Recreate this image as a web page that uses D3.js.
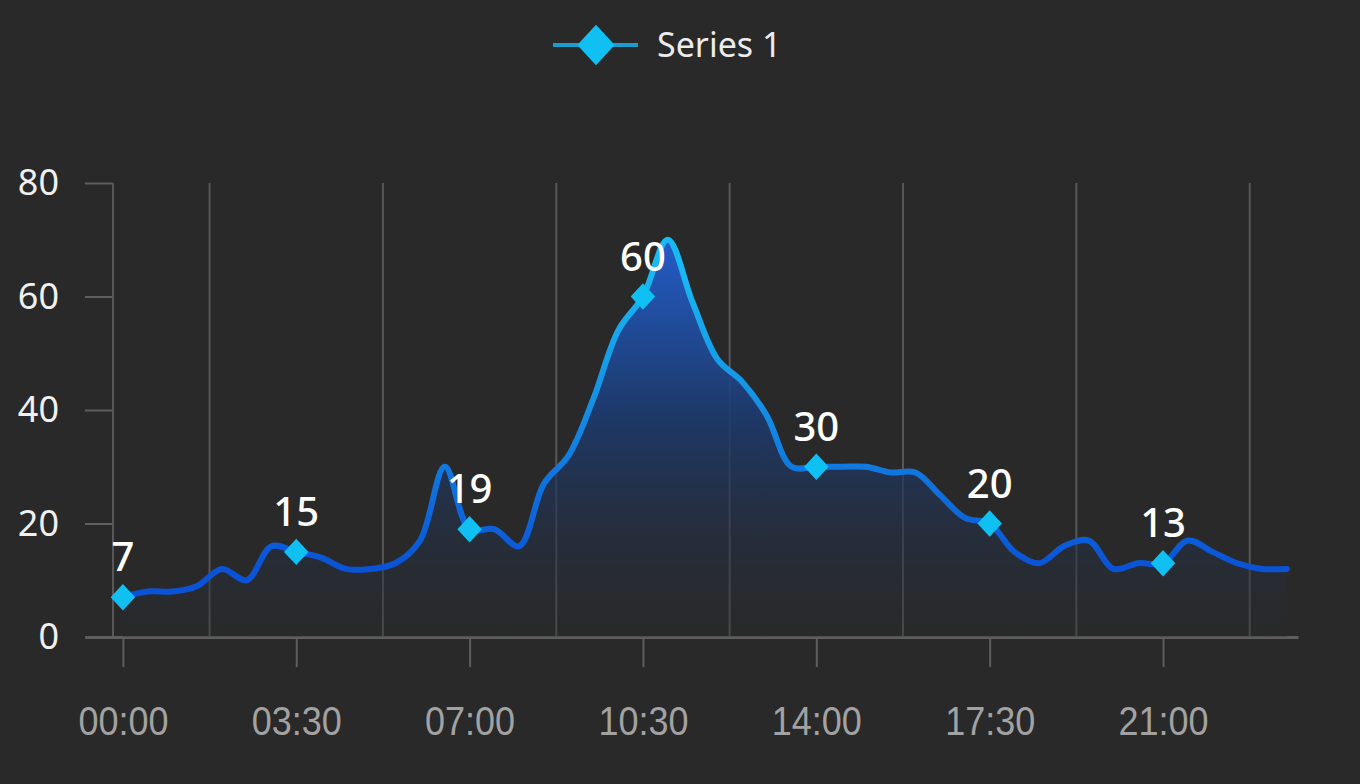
<!DOCTYPE html>
<html>
<head>
<meta charset="utf-8">
<script src="https://cdn.jsdelivr.net/npm/d3@7"></script>
<style>
  html, body { margin: 0; padding: 0; background: #292929; }
  svg { display: block; }
</style>
</head>
<body>
<script>
'use strict';

// half-hour readings, 00:00 .. 23:30
const values = [7, 8, 8, 9, 12, 10, 16, 15, 14, 12, 12, 13,
                17, 30, 19, 19, 16, 27, 32, 42, 54, 60, 70, 59,
                49, 45, 39, 30, 30, 30, 30, 29, 29, 25, 21, 20,
                15, 13, 16, 17, 12, 13, 13, 17, 15, 13, 12, 12]
const tickLabels = ["00:00", "03:30", "07:00", "10:30", "14:00", "17:30", "21:00"]
const tickEvery = 7
const yTicks = [0, 20, 40, 60, 80]
const seriesName = "Series 1"

const m = {
  width: 1360,
  height: 784,
  left: 85,
  right: 1298,
  top: 183,
  bottom: 637,
  yAxisX: 113
}

const svg = d3.select('body')
  .append('svg')
  .attr('width', m.width)
  .attr('height', m.height)

svg.append('rect')
  .attr('width', m.width)
  .attr('height', m.height)
  .attr('fill', '#292929')

const xScale = d3.scaleLinear()
  .domain([-1.53, 47.45])
  .range([m.left, m.right])

const yScale = d3.scaleLinear()
  .domain([0, 80])
  .range([m.bottom, m.top])

let defs = svg.append('defs')

let lineGrad = defs.append('linearGradient')
  .attr('id', 'lineGrad')
  .attr('gradientUnits', 'userSpaceOnUse')
  .attr('x1', 0).attr('x2', 0)
  .attr('y1', yScale(65)).attr('y2', yScale(12))
lineGrad.append('stop').attr('offset', '0%').attr('stop-color', '#19b9f2')
lineGrad.append('stop').attr('offset', '45%').attr('stop-color', '#1590e4')
lineGrad.append('stop').attr('offset', '100%').attr('stop-color', '#0a52d6')

let areaGrad = defs.append('linearGradient')
  .attr('id', 'areaGrad')
  .attr('gradientUnits', 'userSpaceOnUse')
  .attr('x1', 0).attr('x2', 0)
  .attr('y1', yScale(70)).attr('y2', yScale(0))
areaGrad.append('stop').attr('offset', '0%').attr('stop-color', '#2360d2').attr('stop-opacity', 0.95)
areaGrad.append('stop').attr('offset', '45%').attr('stop-color', '#1c3a6e').attr('stop-opacity', 0.9)
areaGrad.append('stop').attr('offset', '100%').attr('stop-color', '#292929').attr('stop-opacity', 0.3)

// vertical grid lines, half way between labelled ticks
let gridIdx = d3.range(tickLabels.length).map((i) => i * tickEvery + tickEvery / 2)
svg.selectAll('.grid')
  .data(gridIdx)
  .enter().append('line')
  .attr('class', 'grid')
  .attr('x1', (d) => xScale(d)).attr('x2', (d) => xScale(d))
  .attr('y1', m.top).attr('y2', m.bottom)
  .style('stroke', '#575757')
  .style('stroke-width', 2)

// y axis
let yAxis = d3.axisLeft(yScale)
  .tickValues(yTicks)
  .tickSize(28)
  .tickPadding(26)
svg.append('g')
  .attr('transform', 'translate(' + m.yAxisX + ', 0)')
  .call(yAxis)
  .call((g) => g.select('.domain').remove())
  .call((g) => g.selectAll('.tick line').style('stroke', '#5e5e5e').style('stroke-width', 2))
  .call((g) => g.selectAll('.tick text')
    .style('fill', '#f0f0f0')
    .style('font-family', '"Noto Sans", sans-serif')
    .style('font-size', '36px'))

svg.append('line')
  .attr('x1', m.yAxisX).attr('x2', m.yAxisX)
  .attr('y1', m.top).attr('y2', m.bottom)
  .style('stroke', '#575757')
  .style('stroke-width', 2)

// x axis
let xAxis = d3.axisBottom(xScale)
  .tickValues(tickLabels.map((d, i) => i * tickEvery))
  .tickFormat((d) => tickLabels[d / tickEvery])
  .tickSize(30)
  .tickSizeOuter(0)
  .tickPadding(40)
svg.append('g')
  .attr('transform', 'translate(0, ' + m.bottom + ')')
  .call(xAxis)
  .call((g) => g.select('.domain').style('stroke', '#5e5e5e').style('stroke-width', 3))
  .call((g) => g.selectAll('.tick line').style('stroke', '#5e5e5e').style('stroke-width', 2))
  .call((g) => g.selectAll('.tick text')
    .style('fill', '#a2a2a2')
    .style('font-family', '"Liberation Sans", Arial, sans-serif')
    .style('font-size', '40px')
    .attr('textLength', 90)
    .attr('lengthAdjust', 'spacingAndGlyphs'))

const curve = d3.curveCatmullRom.alpha(0.5)

let area = d3.area()
  .x((d, i) => xScale(i))
  .y0(yScale(0))
  .y1((d) => yScale(d))
  .curve(curve)

let line = d3.line()
  .x((d, i) => xScale(i))
  .y((d) => yScale(d))
  .curve(curve)

svg.append('path')
  .datum(values)
  .attr('d', area)
  .style('fill', 'url(#areaGrad)')

svg.append('path')
  .datum(values)
  .attr('d', line)
  .style('fill', 'none')
  .style('stroke', 'url(#lineGrad)')
  .style('stroke-width', 6)
  .style('stroke-linejoin', 'round')
  .style('stroke-linecap', 'round')

let marked = values.map((v, i) => ({ i: i, v: v })).filter((d) => d.i % tickEvery == 0)
let diamond = d3.symbol().type(d3.symbolSquare).size(300)

svg.selectAll('.marker')
  .data(marked)
  .enter().append('path')
  .attr('class', 'marker')
  .attr('d', diamond)
  .attr('transform', (d) => 'translate(' + xScale(d.i) + ',' + yScale(d.v) + ') scale(1, 1.08) rotate(45)')
  .style('fill', '#10c0f2')

svg.selectAll('.value')
  .data(marked)
  .enter().append('text')
  .attr('class', 'value')
  .attr('x', (d) => xScale(d.i))
  .attr('y', (d) => yScale(d.v) - 26)
  .attr('text-anchor', 'middle')
  .style('fill', '#ffffff')
  .style('font-family', '"Noto Sans", sans-serif')
  .style('font-weight', 500)
  .style('font-size', '40px')
  .text((d) => d.v)

// legend
let leg = svg.append('g').attr('transform', 'translate(596, 45)')
leg.append('line')
  .attr('x1', -43).attr('x2', 42)
  .style('stroke', '#1b9ccc')
  .style('stroke-width', 4)
leg.append('path')
  .attr('d', d3.symbol().type(d3.symbolSquare).size(700))
  .attr('transform', 'scale(1, 1.08) rotate(45)')
  .style('fill', '#10c0f2')
leg.append('text')
  .attr('x', 61)
  .attr('dy', '0.35em')
  .style('fill', '#ececec')
  .style('font-family', '"Noto Sans", sans-serif')
  .style('font-size', '34px')
  .text(seriesName)
</script>
</body>
</html>
